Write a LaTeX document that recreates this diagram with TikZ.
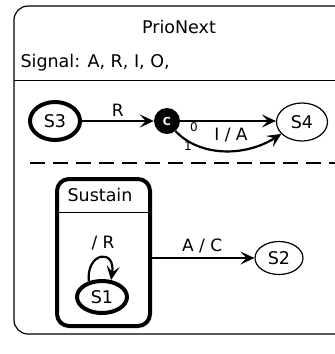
\documentclass[tikz,border=0pt]{standalone}
\usepackage{fontspec}
\setmainfont{DejaVu Sans}
\usetikzlibrary{arrows.meta, shapes.geometric}

\tikzset{
  state/.style={draw, ellipse, line width=1.2pt, inner sep=0pt},
  initstate/.style={state, line width=4pt},
  choice/.style={circle, fill=black, text=white, minimum size=26pt, inner sep=0pt, font=\fontsize{11}{13}\selectfont\bfseries},
  trans/.style={line width=2.2pt, -{Stealth[length=14pt, width=13pt, inset=6pt]}},
  lbl/.style={font=\fontsize{17}{20}\selectfont},
  prio/.style={font=\fontsize{12}{14}\selectfont}
}

\begin{document}
\begin{tikzpicture}[x=1pt, y=-1pt, font=\fontsize{17.5}{21}\selectfont]

  \useasboundingbox (0,0) rectangle (335,354);
  \clip (0,0) rectangle (335,354);

  %----- OUTER STATE -----
  \draw[line width=1.2pt, rounded corners=14pt] (14,6) rectangle (360,334);
  \node (title) at (179,27) {PrioNext};
  \node[anchor=west] (signals) at (17,63) {Signal: A, R, I, O,};
  \draw[line width=1pt] (14,80) -- (340,80);

  %----- FIRST REGION -----
  \node[initstate, minimum width=50pt, minimum height=38pt] (S3) at (55,121) {S3};
  \node[choice] (C) at (167,121) {C};
  \node[state, minimum width=51pt, minimum height=38pt] (S4) at (302,122) {S4};

  \draw[trans] (S3) -- (C) node[midway, above, lbl] {R};
  \draw[trans] (C.east) -- (S4.west |- C.east);
  \node[prio] (p0) at (194,127) {0};

  % lower transition with a bend
  \draw[trans] (C.-50) .. controls (200,157) and (245,157) .. (S4.-150);
  \node[prio] (p1) at (188,146) {1};
  \node[lbl] (IA) at (231,135) {I / A};

  %----- REGION SEPARATOR (dashed) -----
  \draw[line width=1.2pt, dash pattern=on 15pt off 8pt] (30,163) -- (345,163);

  %----- SECOND REGION -----
  \draw[line width=4pt, rounded corners=12pt] (57,179) rectangle (150,326);
  \coordinate (sus) at (150,258);
  \node (sustain) at (100,195) {Sustain};
  \draw[line width=1pt] (57,212) -- (150,212);

  \node[initstate, minimum width=50pt, minimum height=32pt] (S1) at (102,297) {S1};
  \draw[trans] (S1.130) .. controls (86,252) and (116,248) .. (S1.62);
  \node[lbl] (loopR) at (103,243) {/ R};

  \node[state, minimum width=48pt, minimum height=33pt] (S2) at (279,258) {S2};
  \draw[trans] (sus) -- (S2) node[midway, above, lbl] {A / C};

\end{tikzpicture}
\end{document}
